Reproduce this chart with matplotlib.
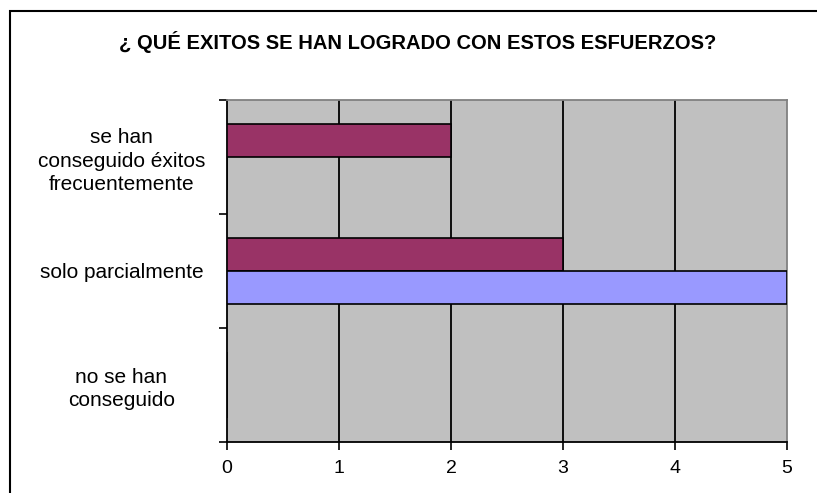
import numpy as np
import matplotlib.pyplot as plt
from matplotlib.patches import Rectangle

# categories from top to bottom
categories = ['se han\nconseguido éxitos\nfrecuentemente',
              'solo parcialmente',
              'no se han\nconseguido']
serie_granate = [2, 3, 0]
serie_azul = [0, 5, 0]
x_ticks = [0, 1, 2, 3, 4, 5]

plt.rcParams['font.family'] = ['Liberation Sans', 'DejaVu Sans']

fig = plt.figure(figsize=(8.17, 4.93), dpi=100)
ax = fig.add_axes([227 / 817, 1 - 442 / 493, 560 / 817, 342 / 493])

y = np.arange(len(categories))
h = 1 / 3.5
ax.barh(y - h / 2, serie_granate, height=h, color='#993366',
        edgecolor='black', linewidth=1.2, zorder=3)
ax.barh(y + h / 2, serie_azul, height=h, color='#9999FF',
        edgecolor='black', linewidth=1.2, zorder=3)

ax.set_facecolor('#C0C0C0')
ax.set_xlim(0, 5)
ax.set_ylim(len(categories) - 0.5, -0.5)

ax.set_xticks(x_ticks)
ax.set_xticklabels([str(t) for t in x_ticks], fontsize=14)
ax.set_yticks(np.arange(len(categories) + 1) - 0.5)
ax.set_yticklabels([])
ax.set_yticks(y, minor=True)
ax.set_yticklabels(categories, minor=True, fontsize=15,
                   ha='center', linespacing=1.3)
ax.tick_params(axis='y', which='minor', length=0, pad=76)
ax.tick_params(axis='both', which='major', length=6, width=1.2,
               direction='out', color='black')
ax.tick_params(axis='x', pad=7)

for gx in x_ticks[1:-1]:
    ax.axvline(gx, color='black', linewidth=1.3, zorder=1)

ax.spines['left'].set_linewidth(1.3)
ax.spines['bottom'].set_linewidth(1.3)
ax.spines['top'].set_color('#808080')
ax.spines['right'].set_color('#808080')
ax.spines['top'].set_linewidth(1.3)
ax.spines['right'].set_linewidth(1.3)

fig.text(418 / 817, 1 - 42 / 493, '¿ QUÉ EXITOS SE HAN LOGRADO CON ESTOS ESFUERZOS?',
         ha='center', va='center', fontsize=14.5, fontweight='bold')

# chart border (cut off on right and bottom)
fig.patches.append(Rectangle((9.5 / 817, -0.1), 1.2, 1 - 11 / 493 + 0.1,
                             transform=fig.transFigure, fill=False,
                             edgecolor='black', linewidth=1.5))

fig.savefig('out.png', dpi=100)
